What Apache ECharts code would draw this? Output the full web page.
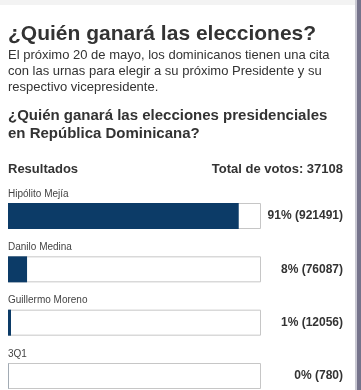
<!DOCTYPE html>
<html>
<head>
<meta charset="utf-8">
<script src="https://cdn.jsdelivr.net/npm/echarts@6/dist/echarts.min.js"></script>
<style>
html,body{margin:0;padding:0;background:#fff;}
#c{width:361px;height:390px;}
</style>
</head>
<body>
<div id="c"></div>
<script>
const candidates = ['Hipólito Mejía', 'Danilo Medina', 'Guillermo Moreno', '3Q1'];
const votes = [921491, 76087, 12056, 780];
const percents = [91, 8, 1, 0];
const totalVotes = 37108;

const titleText = '¿Quién ganará las elecciones?';
const introLines = [
  'El próximo 20 de mayo, los dominicanos tienen una cita',
  'con las urnas para elegir a su próximo Presidente y su',
  'respectivo vicepresidente.'
];
const questionLines = [
  '¿Quién ganará las elecciones presidenciales',
  'en República Dominicana?'
];

const FONT = '"Liberation Sans", Arial, sans-serif';
const maxVotes = votes.reduce((a, b) => a + b, 0);

const chart = echarts.init(document.getElementById('c'), null, {renderer: 'canvas'});

const graphics = [
  {type: 'rect', left: 0, top: 0, shape: {width: 361, height: 5}, style: {fill: '#f3f3f3'}, silent: true},
  {type: 'rect', left: 355, top: 0, shape: {width: 2, height: 390}, style: {fill: '#c9c8d2'}, silent: true},
  {type: 'rect', left: 357, top: 0, shape: {width: 4, height: 390}, style: {fill: '#75738b'}, silent: true},
  {type: 'text', left: 8, top: 24, style: {text: titleText, font: 'bold 21px ' + FONT, fill: '#333'}},
  {type: 'text', left: 8, top: 47, style: {text: introLines.join('\n'), font: '13px ' + FONT, lineHeight: 16, fill: '#333'}},
  {type: 'text', left: 8, top: 107, style: {text: questionLines.join('\n'), font: 'bold 15px ' + FONT, lineHeight: 18, fill: '#333'}},
  {type: 'text', left: 8, top: 163, style: {text: 'Resultados', font: 'bold 13px ' + FONT, fill: '#333'}},
  {type: 'text', right: 18, top: 163, style: {text: 'Total de votos: ' + totalVotes, font: 'bold 13px ' + FONT, fill: '#333', align: 'right'}}
];

chart.setOption({
  animation: false,
  backgroundColor: 'transparent',
  graphic: graphics,
  grid: {left: 8, width: 253, top: 216, height: 160, containLabel: false},
  xAxis: {type: 'value', min: 0, max: maxVotes, show: false},
  yAxis: {type: 'category', data: candidates, inverse: true, show: false, boundaryGap: false},
  series: [
    {
      type: 'bar',
      barWidth: 26,
      barGap: '-100%',
      silent: true,
      data: candidates.map(() => maxVotes),
      itemStyle: {color: '#ffffff', borderColor: '#c6c6c6', borderWidth: 1},
      label: {
        show: true,
        position: [0, -4],
        verticalAlign: 'bottom',
        align: 'left',
        formatter: p => p.name,
        fontFamily: FONT,
        fontSize: 10,
        color: '#444'
      }
    },
    {
      type: 'bar',
      barWidth: 26,
      barGap: '-100%',
      silent: true,
      data: votes,
      itemStyle: {color: '#0c3b67'},
      label: {show: false}
    },
    {
      type: 'bar',
      barWidth: 26,
      barGap: '-100%',
      silent: true,
      data: candidates.map(() => maxVotes),
      itemStyle: {color: 'rgba(0,0,0,0)'},
      label: {
        show: true,
        position: ['100%', '50%'],
        offset: [82, 0],
        align: 'right',
        verticalAlign: 'middle',
        formatter: p => percents[p.dataIndex] + '% (' + votes[p.dataIndex] + ')',
        fontFamily: FONT,
        fontSize: 12,
        fontWeight: 'bold',
        color: '#333'
      }
    }
  ]
});
</script>
</body>
</html>
